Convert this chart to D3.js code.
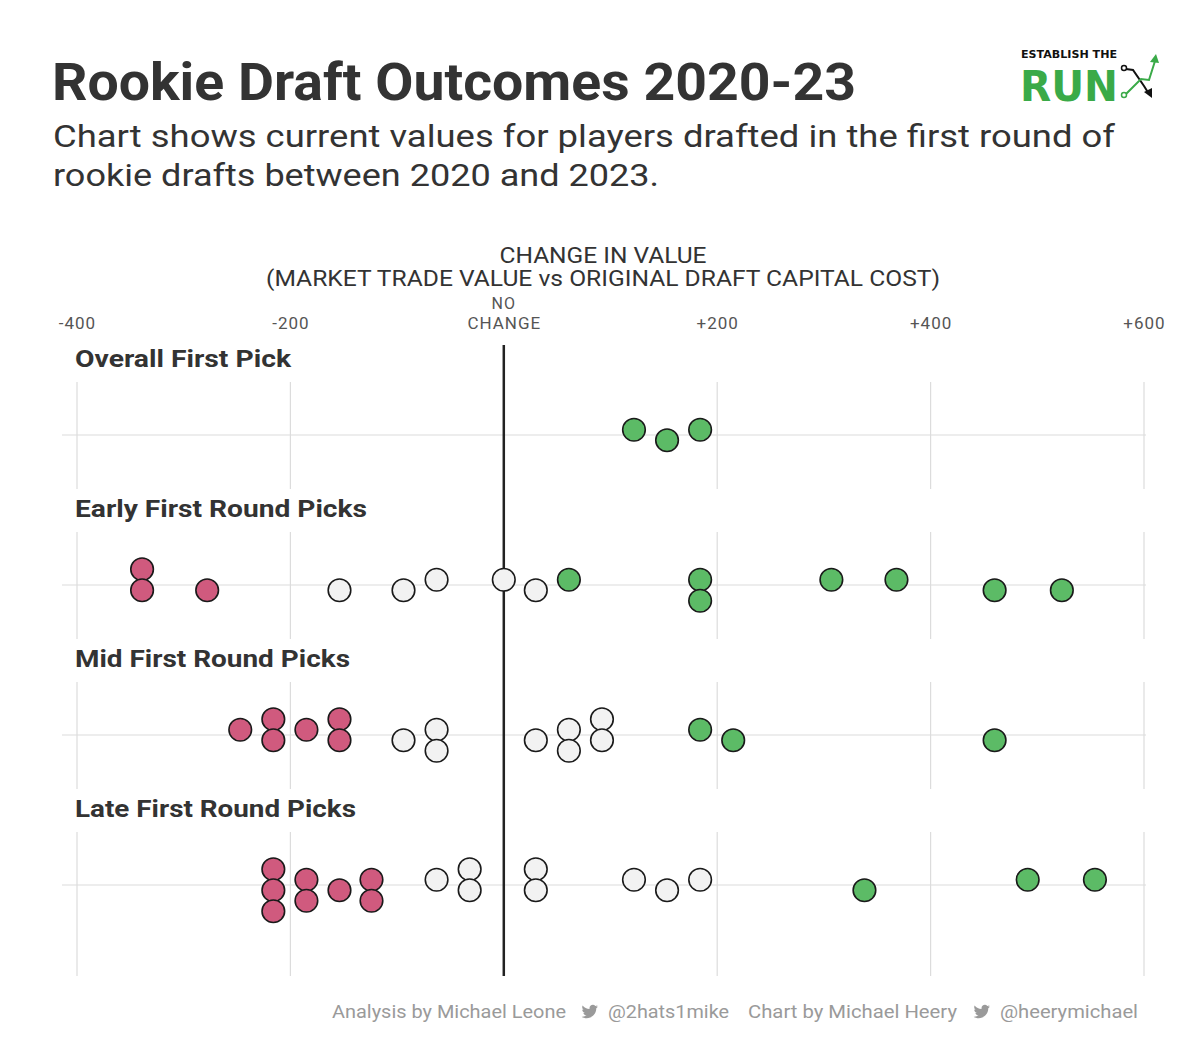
<!DOCTYPE html>
<html>
<head>
<meta charset="utf-8">
<script src="https://cdn.jsdelivr.net/npm/d3@7"></script>
<style>
  html, body { margin: 0; padding: 0; background: #fff; }
  svg { display: block; font-family: Roboto, "Noto Sans", sans-serif; }
</style>
</head>
<body>
<div id="chart"></div>
<script>
'use strict';

// Rookie draft outcomes - dot plot, one row per pick bucket.
// Each dot: [change in value, stack lane (half-dot units), outcome]

const groups = ['Overall First Pick', 'Early First Round Picks', 'Mid First Round Picks', 'Late First Round Picks'];
const ticks = [-400, -200, 0, 200, 400, 600];
const tickLabels = ['-400', '-200', 'CHANGE', '+200', '+400', '+600'];

const overallPick = [
	[122, -0.5, 'gain'], [153, 0.5, 'gain'], [184, -0.5, 'gain']
];
const earlyPicks = [
	[-339, -1.5, 'loss'], [-339, 0.5, 'loss'], [-278, 0.5, 'loss'],
	[-154, 0.5, 'flat'], [-94, 0.5, 'flat'], [-63, -0.5, 'flat'], [0, -0.5, 'flat'], [30, 0.5, 'flat'],
	[61, -0.5, 'gain'], [184, -0.5, 'gain'], [184, 1.5, 'gain'], [307, -0.5, 'gain'],
	[368, -0.5, 'gain'], [460, 0.5, 'gain'], [523, 0.5, 'gain']
];
const midPicks = [
	[-247, -0.5, 'loss'], [-216, -1.5, 'loss'], [-216, 0.5, 'loss'], [-185, -0.5, 'loss'],
	[-154, -1.5, 'loss'], [-154, 0.5, 'loss'],
	[-94, 0.5, 'flat'], [-63, -0.5, 'flat'], [-63, 1.5, 'flat'], [30, 0.5, 'flat'],
	[61, -0.5, 'flat'], [61, 1.5, 'flat'], [92, -1.5, 'flat'], [92, 0.5, 'flat'],
	[184, -0.5, 'gain'], [215, 0.5, 'gain'], [460, 0.5, 'gain']
];
const latePicks = [
	[-216, -1.5, 'loss'], [-216, 0.5, 'loss'], [-216, 2.5, 'loss'], [-185, -0.5, 'loss'],
	[-185, 1.5, 'loss'], [-154, 0.5, 'loss'], [-124, -0.5, 'loss'], [-124, 1.5, 'loss'],
	[-63, -0.5, 'flat'], [-32, -1.5, 'flat'], [-32, 0.5, 'flat'], [30, -1.5, 'flat'], [30, 0.5, 'flat'],
	[122, -0.5, 'flat'], [153, 0.5, 'flat'], [184, -0.5, 'flat'],
	[338, 0.5, 'gain'], [491, -0.5, 'gain'], [554, -0.5, 'gain']
];
const seriesByGroup = [overallPick, earlyPicks, midPicks, latePicks];

const PALETTE = {
	text: '#333333',
	tick: '#555555',
	grid: '#dcdcdc',
	zero: '#222222',
	stroke: '#1a1a1a',
	footer: '#9a9a9a',
	loss: '#d05a7e',
	flat: '#f2f2f2',
	gain: '#5cbb66',
	logoGreen: '#3aaa48'
};

const W = 1200, H = 1062;
const R = 11.3;
const LABEL_WIDTHS = [216, 292, 275, 281];

const svg = d3.select('#chart').append('svg')
	.attr('width', W).attr('height', H);

const x = d3.scaleLinear().domain([-400, 600]).range([77, 1144]);
const rowY = d3.scalePoint().domain(groups).range([435, 885]);
const lane = d3.scaleLinear().domain([0, 1]).range([0, 10.5]);

// ----------------------- titles ---------------------------------------

svg.append('text')
	.attr('x', 52).attr('y', 100)
	.attr('font-size', 51).attr('font-weight', 700).attr('fill', PALETTE.text)
	.attr('textLength', 804).attr('lengthAdjust', 'spacingAndGlyphs')
	.text('Rookie Draft Outcomes 2020-23');

const subtitle = ['Chart shows current values for players drafted in the first round of',
	'rookie drafts between 2020 and 2023.'];
const subWidths = [1062, 606];
subtitle.forEach((line, i) => {
	svg.append('text')
		.attr('x', 53).attr('y', 147 + i * 39)
		.attr('font-size', 31).attr('fill', PALETTE.text)
		.attr('textLength', subWidths[i]).attr('lengthAdjust', 'spacingAndGlyphs')
		.text(line);
});

// logo
const logo = svg.append('g');
logo.append('text')
	.attr('x', 1021).attr('y', 58)
	.attr('font-size', 11).attr('font-weight', 900).attr('fill', '#111')
	.attr('font-family', '"DejaVu Sans", sans-serif')
	.attr('textLength', 96).attr('lengthAdjust', 'spacingAndGlyphs')
	.text('ESTABLISH THE');
logo.append('text')
	.attr('x', 1020).attr('y', 101)
	.attr('font-size', 42).attr('font-weight', 900).attr('fill', PALETTE.logoGreen)
	.attr('font-family', '"DejaVu Sans", sans-serif')
	.attr('textLength', 98).attr('lengthAdjust', 'spacingAndGlyphs')
	.text('RUN');
logo.append('path')
	.attr('d', 'M1126,69 L1133,70 L1144,86 L1149,94')
	.attr('fill', 'none').attr('stroke', '#111').attr('stroke-width', 2);
logo.append('path').attr('d', 'M1144,92 L1152,98 L1152,88 Z').attr('fill', '#111');
logo.append('circle').attr('cx', 1124).attr('cy', 68).attr('r', 2.5)
	.attr('fill', '#fff').attr('stroke', '#111').attr('stroke-width', 1.5);
logo.append('path')
	.attr('d', 'M1126,94 L1141,79 L1149,80 L1155,61')
	.attr('fill', 'none').attr('stroke', PALETTE.logoGreen).attr('stroke-width', 2);
logo.append('path').attr('d', 'M1150,62 L1156,54 L1159,63 Z').attr('fill', PALETTE.logoGreen);
logo.append('circle').attr('cx', 1124).attr('cy', 95).attr('r', 2.5)
	.attr('fill', '#fff').attr('stroke', PALETTE.logoGreen).attr('stroke-width', 1.5);

// ----------------------- axis ------------------------------------------

svg.append('text')
	.attr('x', 603).attr('y', 263).attr('text-anchor', 'middle')
	.attr('font-size', 22).attr('fill', PALETTE.text)
	.attr('textLength', 207).attr('lengthAdjust', 'spacingAndGlyphs')
	.text('CHANGE IN VALUE');
svg.append('text')
	.attr('x', 603).attr('y', 286).attr('text-anchor', 'middle')
	.attr('font-size', 22).attr('fill', PALETTE.text)
	.attr('textLength', 674).attr('lengthAdjust', 'spacingAndGlyphs')
	.text('(MARKET TRADE VALUE vs ORIGINAL DRAFT CAPITAL COST)');

const axis = d3.axisTop(x).tickValues(ticks)
	.tickFormat((d, i) => tickLabels[i]).tickSize(0).tickPadding(0);
const axisG = svg.append('g').attr('transform', 'translate(0,329)').call(axis);
axisG.select('.domain').remove();
axisG.selectAll('text')
	.attr('font-size', 17).attr('fill', PALETTE.tick)
	.attr('letter-spacing', 1)
	.attr('font-family', 'Roboto, sans-serif').attr('dy', 0);
svg.append('text')
	.attr('x', x(0)).attr('y', 309).attr('text-anchor', 'middle')
	.attr('font-size', 16).attr('fill', PALETTE.tick)
	.attr('letter-spacing', 1)
	.text('NO');

// ----------------------- panels ----------------------------------------

groups.forEach((name, gi) => {
	const cy = rowY(name);
	const top = cy - 53;
	const bottom = gi === groups.length - 1 ? 976 : cy + 54;
	const panel = svg.append('g');

	panel.append('text')
		.attr('x', 75).attr('y', cy - 68)
		.attr('font-size', 24).attr('font-weight', 700).attr('fill', PALETTE.text)
		.attr('textLength', LABEL_WIDTHS[gi]).attr('lengthAdjust', 'spacingAndGlyphs')
		.text(name);

	panel.selectAll('line.vgrid')
		.data(ticks.filter((t) => t !== 0))
		.join('line')
		.attr('class', 'vgrid')
		.attr('x1', (d) => x(d)).attr('x2', (d) => x(d))
		.attr('y1', top).attr('y2', bottom)
		.attr('stroke', PALETTE.grid).attr('stroke-width', 1.2);

	panel.append('line')
		.attr('x1', 62).attr('x2', 1146)
		.attr('y1', cy).attr('y2', cy)
		.attr('stroke', PALETTE.grid).attr('stroke-width', 1.2);
});

// zero reference line
svg.append('line')
	.attr('x1', x(0)).attr('x2', x(0))
	.attr('y1', 345).attr('y2', 976)
	.attr('stroke', PALETTE.zero).attr('stroke-width', 2.5);

// dots
groups.forEach((name, gi) => {
	const cy = rowY(name);
	svg.append('g').selectAll('circle')
		.data(seriesByGroup[gi])
		.join('circle')
		.attr('cx', (d) => x(d[0]))
		.attr('cy', (d) => cy + lane(d[1]))
		.attr('r', R)
		.attr('fill', (d) => PALETTE[d[2]])
		.attr('stroke', PALETTE.stroke).attr('stroke-width', 1.6);
});

// ----------------------- footer ----------------------------------------

const BIRD = 'M23.6 4.9c-.8.4-1.7.6-2.7.7 1-.6 1.7-1.5 2-2.6-.9.5-1.9.9-3 1.1-.9-.9-2.1-1.5-3.4-1.5-2.6 0-4.7 2.1-4.7 4.7 0 .4 0 .7.1 1.1-3.9-.2-7.3-2.1-9.6-4.9-.4.7-.6 1.5-.6 2.3 0 1.6.8 3 2.1 3.9-.8 0-1.5-.2-2.1-.6v.1c0 2.3 1.6 4.1 3.7 4.6-.4.1-.8.2-1.2.2-.3 0-.6 0-.9-.1.6 1.9 2.3 3.2 4.4 3.2-1.6 1.3-3.6 2-5.8 2-.4 0-.7 0-1.1-.1 2.1 1.3 4.5 2.1 7.1 2.1 8.6 0 13.3-7.1 13.3-13.3v-.6c.9-.7 1.7-1.5 2.4-2.4z';

const footerParts = [
	{ text: 'Analysis by Michael Leone', x: 332, w: 234 },
	{ icon: true, x: 581 },
	{ text: '@2hats1mike', x: 608, w: 121 },
	{ text: 'Chart by Michael Heery', x: 748, w: 209 },
	{ icon: true, x: 973 },
	{ text: '@heerymichael', x: 1000, w: 138 }
];
const footer = svg.append('g');
footerParts.forEach((p) => {
	if (p.icon) {
		footer.append('path')
			.attr('d', BIRD)
			.attr('transform', `translate(${p.x},1003) scale(0.72)`)
			.attr('fill', PALETTE.footer);
	} else {
		footer.append('text')
			.attr('x', p.x).attr('y', 1018)
			.attr('font-size', 19).attr('fill', PALETTE.footer)
			.attr('textLength', p.w).attr('lengthAdjust', 'spacingAndGlyphs')
			.text(p.text);
	}
});
</script>
</body>
</html>
